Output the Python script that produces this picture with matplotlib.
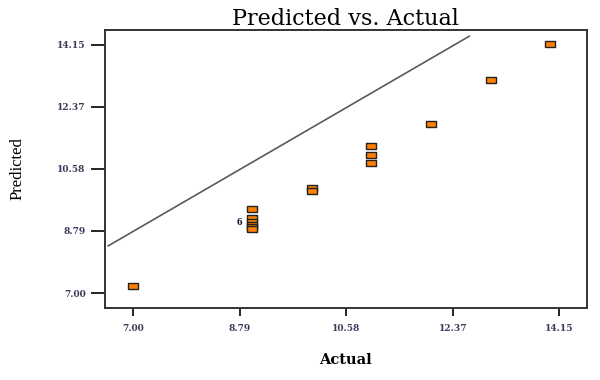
import numpy as np
import matplotlib
matplotlib.use('Agg')
import matplotlib.pyplot as plt

# values
actual = [7, 9, 9, 9, 9, 9, 9, 10, 10, 11, 11, 11, 12, 13, 14]
predicted = [7.21, 9.42, 9.15, 9.06, 8.96, 8.90, 8.84, 10.04, 9.95,
             11.24, 10.98, 10.76, 11.86, 13.14, 14.17]
line_x = [6.59, 12.64]
line_y = [8.36, 14.40]
ticks = [7.00, 8.79, 10.58, 12.37, 14.15]
tick_labels = ['7.00', '8.79', '10.58', '12.37', '14.15']
overlap_label = '6'
overlap_at = 1  # index of the point that carries the count label

serif = ['Liberation Serif', 'DejaVu Serif']
wide_serif = ['DejaVu Serif']

fig = plt.figure(figsize=(6, 3.8), dpi=100)
ax = fig.add_axes([0.175, 0.190, 0.803, 0.732])

ax.plot(line_x, line_y, color='#5a5a5a', lw=1.2)

# rectangular markers, wider than tall
rect = [(-1.5, -1), (1.5, -1), (1.5, 1), (-1.5, 1), (-1.5, -1)]
ax.plot(actual, predicted, linestyle='none', marker=rect, markersize=7,
        markerfacecolor='#ff8000', markeredgecolor='#222222', markeredgewidth=1.0)

ax.annotate(overlap_label, (actual[overlap_at], predicted[overlap_at + 2]),
            xytext=(-9, -1), textcoords='offset points', ha='center', va='center',
            fontsize=8, fontweight='bold', family=serif, color='#111133')

ax.set_xlim(6.536, 14.61)
ax.set_ylim(6.576, 14.59)
ax.set_xticks(ticks)
ax.set_xticklabels(tick_labels)
ax.set_yticks(ticks)
ax.set_yticklabels(tick_labels)
ax.tick_params(axis='x', length=6, width=1.2, pad=6, labelsize=6.5, labelcolor='#3a3a5a')
ax.tick_params(axis='y', length=10, width=1.2, pad=4, labelsize=6.5, labelcolor='#3a3a5a')
for lab in ax.get_xticklabels() + ax.get_yticklabels():
    lab.set_family(wide_serif)
    lab.set_fontweight('bold')

for s in ax.spines.values():
    s.set_linewidth(1.4)
    s.set_color('#333333')

ax.set_title('Predicted vs. Actual', fontsize=16, family=wide_serif, pad=2)
ax.set_xlabel('Actual', fontsize=10.5, family=wide_serif, fontweight='bold', labelpad=14)
ax.set_ylabel('Predicted', fontsize=12, family=serif, labelpad=23)

fig.savefig('out.png', dpi=100)
